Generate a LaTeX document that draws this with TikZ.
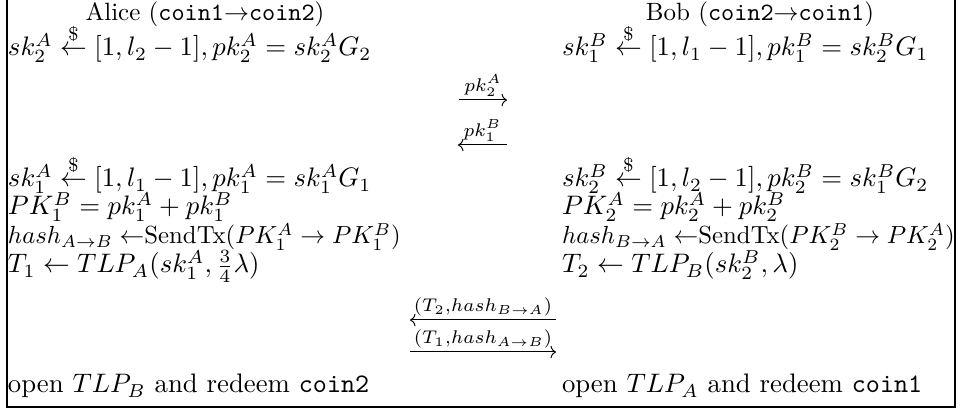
\documentclass[tikz,border=0pt]{standalone}
\usepackage{amsmath,amssymb}
\usetikzlibrary{arrows.meta}
\tikzset{
  txt/.style={anchor=base west, inner sep=0pt, outer sep=0pt, scale=1.07, transform shape},
  txtn/.style={anchor=base west, inner sep=0pt, outer sep=0pt, scale=0.99, transform shape},
  head/.style={anchor=base, inner sep=0pt, outer sep=0pt},
  msg/.style={line width=0.4pt, -{Computer Modern Rightarrow[length=2.2pt,width=5pt]}},
  msgl/.style={line width=0.4pt, {Computer Modern Rightarrow[length=2.2pt,width=5pt]}-},
  lbl/.style={above, inner sep=1.2pt, scale=1.05, transform shape},
  frame/.style={line width=0.5pt}
}
\begin{document}
\begin{tikzpicture}[x=0.4pt,y=-0.4pt]
\useasboundingbox (0,0) rectangle (960,412);
\draw[frame] (7,0) -- (7,407) -- (955,407) -- (955,0);
% headers
\node[head] (alice) at (205,21) {Alice (\texttt{coin1}$\rightarrow$\texttt{coin2})};
\node[head] (bob) at (760,21) {Bob (\texttt{coin2}$\rightarrow$\texttt{coin1})};
% first key generation
\node[txt] (a1) at (8,56) {$sk_2^A \stackrel{\$}{\leftarrow} [1,l_2-1], pk_2^A=sk_2^AG_2$};
\node[txt] (b1) at (562,56) {$sk_1^B \stackrel{\$}{\leftarrow} [1,l_1-1], pk_1^B=sk_2^BG_1$};
% exchange of public keys
\coordinate (m1s) at (459,100); \coordinate (m1e) at (507,100);
\draw[msg] (m1s) -- node[lbl] (l1) {$\scriptstyle pk_2^A$} (m1e);
\coordinate (m2s) at (458,145); \coordinate (m2e) at (507,145);
\draw[msgl] (m2s) -- node[lbl] (l2) {$\scriptstyle pk_1^B$} (m2e);
% second block
\node[txt] (a2) at (8,187) {$sk_1^A \stackrel{\$}{\leftarrow} [1,l_1-1], pk_1^A=sk_1^AG_1$};
\node[txt] (a3) at (8,215) {$PK_1^B=pk_1^A+pk_1^B$};
\node[txtn] (a4) at (8,244) {$hash_{A\rightarrow B} \leftarrow$SendTx$(PK_1^A\rightarrow PK_1^B)$};
\node[txt] (a5) at (8,273) {$T_1\leftarrow TLP_A(sk_1^A,\frac{3}{4}\lambda)$};
\node[txt] (b2) at (562,187) {$sk_2^B \stackrel{\$}{\leftarrow} [1,l_2-1], pk_2^B=sk_1^BG_2$};
\node[txt] (b3) at (562,215) {$PK_2^A=pk_2^A+pk_2^B$};
\node[txtn] (b4) at (562,244) {$hash_{B\rightarrow A} \leftarrow$SendTx$(PK_2^B\rightarrow PK_2^A)$};
\node[txt] (b5) at (562,273) {$T_2\leftarrow TLP_B(sk_2^B,\lambda)$};
% exchange of puzzles
\coordinate (m3s) at (410,320); \coordinate (m3e) at (556,320);
\draw[msgl] (m3s) -- node[lbl] (l3) {$\scriptstyle (T_2,hash_{B\rightarrow A})$} (m3e);
\coordinate (m4s) at (410,352); \coordinate (m4e) at (556,352);
\draw[msg] (m4s) -- node[lbl] (l4) {$\scriptstyle (T_1,hash_{A\rightarrow B})$} (m4e);
% final
\node[txt] (a6) at (8,393) {open $TLP_B$ and redeem \texttt{coin2}};
\node[txt] (b6) at (562,393) {open $TLP_A$ and redeem \texttt{coin1}};
\end{tikzpicture}
\end{document}
